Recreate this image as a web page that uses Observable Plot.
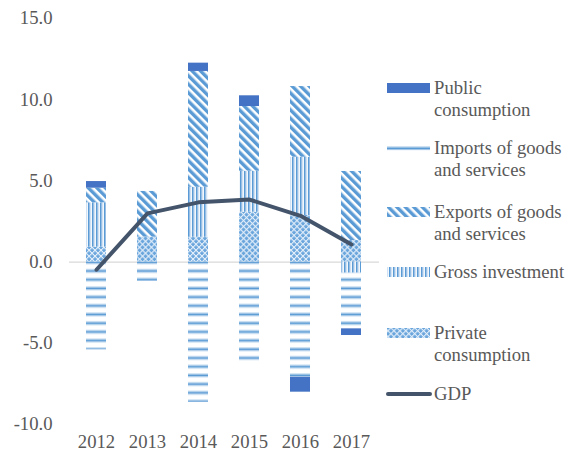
<!DOCTYPE html>
<html><head><meta charset="utf-8">
<script src="https://cdn.jsdelivr.net/npm/d3@7"></script>
<script src="https://cdn.jsdelivr.net/npm/@observablehq/plot@0.6"></script>
<style>
body{margin:0;background:#fff;}
#wrap{position:relative;width:573px;height:453px;font-family:"Liberation Serif","Times New Roman",serif;color:#595959;}
.lg{position:absolute;left:434px;font-size:18.67px;line-height:22px;white-space:nowrap;color:#595959;}
.sw{position:absolute;left:387px;}
</style></head><body><div id="wrap"></div>
<script>
// ---- data ----
const years = ["2012", "2013", "2014", "2015", "2016", "2017"];
const privateConsumption = [0.92, 1.54, 1.53, 3.07, 2.87, 1.33];
const grossInvestment = [2.73, 0, 3.08, 2.53, 3.59, -0.68];
const imports = [-5.40, -1.19, -8.63, -6.16, -7.09, -3.43];
const exports = [0.90, 2.81, 7.13, 3.98, 4.35, 4.25];
const publicConsumption = [0.41, 0, 0.51, 0.66, -0.92, -0.41];
const gdp = [-0.47, 3.0, 3.68, 3.85, 2.85, 1.08];
const yTicks = [-10, -5, 0, 5, 10, 15];

const seriesNames = ["Private consumption", "Gross investment", "Imports of goods and services", "Exports of goods and services", "Public consumption"];
const seriesValues = [privateConsumption, grossInvestment, imports, exports, publicConsumption];
const seriesFills = ["url(#pPriv)", "url(#pInv)", "url(#pImp)", "url(#pExp)", "#4472C4"];

const table = [];
seriesNames.forEach((s, i) => years.forEach((y, j) => table.push({year: y, series: s, value: seriesValues[i][j]})));
const gdpData = years.map((y, j) => ({year: y, gdp: gdp[j]}));

const chart = Plot.plot({
  width: 573, height: 453,
  marginLeft: 69, marginRight: 194, marginTop: 18, marginBottom: 29,
  style: {fontFamily: '"Liberation Serif","Times New Roman",serif', fontSize: "18.67px", color: "#595959", background: "transparent"},
  x: {domain: years, paddingInner: 0.6, paddingOuter: 0.3, label: null},
  y: {domain: [-10, 15], label: null},
  color: {domain: seriesNames, range: seriesFills},
  marks: [
    Plot.ruleY([0], {stroke: "#d9d9d9", strokeWidth: 1.3}),
    Plot.barY(table, {x: "year", y: "value", fill: "series", order: seriesNames, inset: 0}),
    Plot.line(gdpData, {x: "year", y: "gdp", stroke: "#44546A", strokeWidth: 4, strokeLinejoin: "round", strokeLinecap: "round"}),
    Plot.axisY({ticks: yTicks, tickFormat: d => d.toFixed(1), tickSize: 0, tickPadding: 17, fill: "#595959"}),
    Plot.axisX({tickSize: 0, tickPadding: 10, fill: "#595959"})
  ]
});

// patterns
const defs = d3.select(chart).insert("defs", ":first-child");
const dark = "#5B9BD5", light = "#9DC3E6";
// diagonal (exports)
let p = defs.append("pattern").attr("id", "pExp").attr("patternUnits", "userSpaceOnUse")
  .attr("width", 6).attr("height", 6).attr("patternTransform", "rotate(-45)");
p.append("rect").attr("width", 6).attr("height", 6).attr("fill", "#fff");
p.append("rect").attr("x", 0).attr("width", 3).attr("height", 6).attr("fill", dark);
p.append("rect").attr("x", 3).attr("width", 0.7).attr("height", 6).attr("fill", light);
// vertical (investment)
p = defs.append("pattern").attr("id", "pInv").attr("patternUnits", "userSpaceOnUse").attr("width", 4).attr("height", 4);
p.append("rect").attr("width", 4).attr("height", 4).attr("fill", "#f2f7fc");
p.append("rect").attr("x", 0).attr("width", 1.6).attr("height", 4).attr("fill", dark);
p.append("rect").attr("x", 1.6).attr("width", 0.8).attr("height", 4).attr("fill", light);
// horizontal (imports)
p = defs.append("pattern").attr("id", "pImp").attr("patternUnits", "userSpaceOnUse").attr("width", 8).attr("height", 8.7).attr("y", 267.7);
p.append("rect").attr("width", 8).attr("height", 8.7).attr("fill", "#fff");
p.append("rect").attr("y", 1.5).attr("width", 8).attr("height", 1).attr("fill", light);
p.append("rect").attr("y", 2.5).attr("width", 8).attr("height", 1.6).attr("fill", dark);
p.append("rect").attr("y", 4.1).attr("width", 8).attr("height", 1).attr("fill", light);
// diamond lattice (private)
p = defs.append("pattern").attr("id", "pPriv").attr("patternUnits", "userSpaceOnUse").attr("width", 4.2).attr("height", 4.2).attr("patternTransform", "rotate(45)");
p.append("rect").attr("width", 4.2).attr("height", 4.2).attr("fill", "#6aa5dc");
p.append("rect").attr("x", 0).attr("width", 1.1).attr("height", 4.2).attr("fill", "#e4effa");
p.append("rect").attr("y", 0).attr("width", 4.2).attr("height", 1.1).attr("fill", "#e4effa");

const wrap = document.getElementById("wrap");
wrap.appendChild(chart);
chart.style.position = "absolute"; chart.style.left = "0"; chart.style.top = "0";

// legend
const legend = [
  {lines: ["Public", "consumption"], y: 88, sw: "solid"},
  {lines: ["Imports of goods", "and services"], y: 148, sw: "line"},
  {lines: ["Exports of goods", "and services"], y: 212, sw: "url(#pExp)"},
  {lines: ["Gross investment"], y: 272, sw: "url(#pInv)"},
  {lines: ["Private", "consumption"], y: 333, sw: "url(#pPriv)"},
  {lines: ["GDP"], y: 394, sw: "gdp"}
];
legend.forEach(it => {
  const t = document.createElement("div");
  t.className = "lg";
  t.style.top = (it.y - 11) + "px";
  t.innerHTML = it.lines.join("<br>");
  wrap.appendChild(t);
  const s = document.createElementNS("http://www.w3.org/2000/svg", "svg");
  s.setAttribute("class", "sw");
  s.setAttribute("width", 48); s.setAttribute("height", 12);
  s.style.left = "385px"; s.style.top = (it.y - 6) + "px";
  let inner = "";
  if (it.sw === "solid") inner = `<rect x="2" y="1" width="43" height="10" fill="#4472C4"/>`;
  else if (it.sw === "line") inner = `<rect x="2" y="4.5" width="43" height="1" fill="${light}"/><rect x="2" y="5.5" width="43" height="1.6" fill="${dark}"/><rect x="2" y="7.1" width="43" height="1" fill="${light}"/>`;
  else if (it.sw === "gdp") inner = `<line x1="3" y1="6" x2="45" y2="6" stroke="#44546A" stroke-width="4" stroke-linecap="round"/>`;
  else inner = `<rect x="2" y="1" width="43" height="10" fill="${it.sw}"/>`;
  s.innerHTML = inner;
  wrap.appendChild(s);
});
</script></body></html>
